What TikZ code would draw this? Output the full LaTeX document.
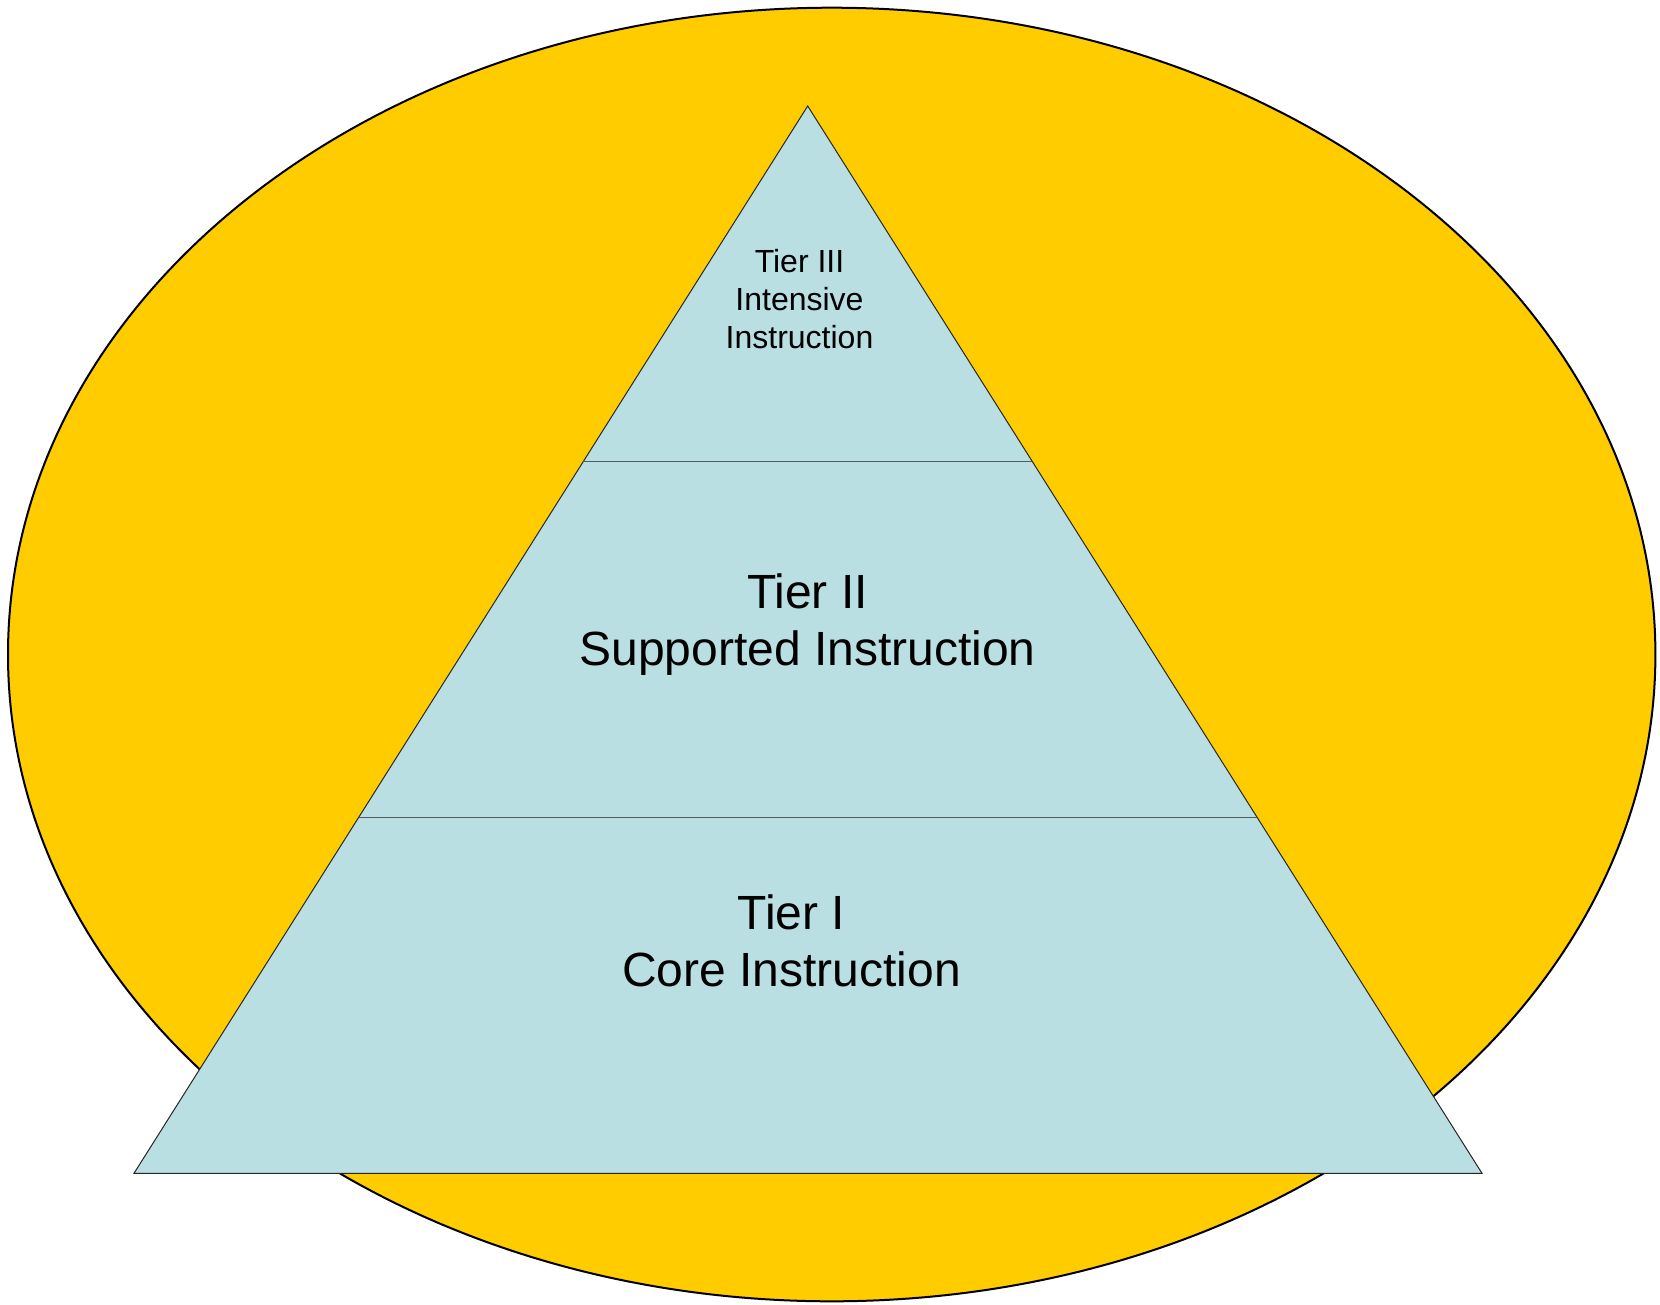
\documentclass[tikz,border=0pt]{standalone}
\usepackage{fontspec}
\setmainfont{Liberation Sans}
\usetikzlibrary{calc}

\definecolor{tieryellow}{HTML}{FFCC00}
\definecolor{tierblue}{HTML}{B9DFE2}
\definecolor{tierline}{HTML}{4D5E5E}

\tikzset{
  tierbig/.style={align=center, inner sep=0pt, font=\fontsize{48}{57.3}\selectfont},
  tiersmall/.style={align=center, inner sep=0pt, font=\fontsize{32}{37.8}\selectfont}
}

\begin{document}
\begin{tikzpicture}[x=1pt, y=-1pt] % pyramid
		\useasboundingbox (0,0) rectangle (1660,1304);
		\filldraw [fill=tieryellow, line width=2pt] (831.7,654.5) ellipse [x radius=823.7pt, y radius=646.8pt];

		\coordinate (apex) at (807.7,106);
		\coordinate (baseL) at (134,1173.3);
		\coordinate (baseR) at (1482,1173.3);
		\filldraw [fill=tierblue, draw=black!85, line width=1pt] (apex) -- (baseL) -- (baseR) -- cycle;

		\foreach \f in {0.3333, 0.6667}
			\draw[tierline, line width=1.2pt] ($(apex)!\f!(baseL)$) -- ($(apex)!\f!(baseR)$);

		\node[tiersmall] (tier3) at (799.5,299.2) {Tier III\\Intensive\\Instruction};
		\node[tierbig] (tier2) at (807.5,624.3) {Tier II\\Supported Instruction};
		\node[tierbig] (tier1) at (791.5,940.5) {Tier I\\Core Instruction};
\end{tikzpicture}
\end{document}
